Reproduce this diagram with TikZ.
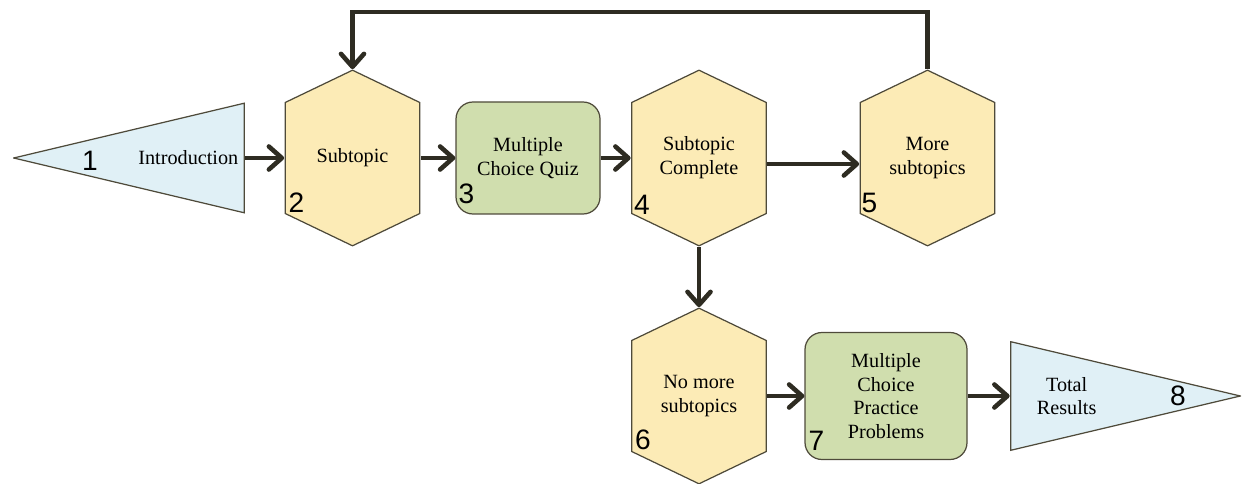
\documentclass[tikz,border=0pt]{standalone}
\usepackage{fontspec}
\setmainfont{Liberation Serif}
\newfontfamily\numfont{Liberation Sans}
\usetikzlibrary{arrows.meta, positioning}
\definecolor{hexfill}{HTML}{FCEBB6}
\definecolor{quizfill}{HTML}{D0DEAE}
\definecolor{endfill}{HTML}{E0F0F6}
\definecolor{edge}{HTML}{4E4A3A}
\definecolor{flowink}{HTML}{2E2C22}

\begin{document}
\begin{tikzpicture}[
  every node/.style = {font=\fontsize{11.5}{13.5}\selectfont},
  hexbox/.style = {minimum width=2.72cm, minimum height=3.54cm, inner sep=0pt, align=center,
    path picture={\filldraw[fill=hexfill, draw=edge, line width=0.7pt]
      ([yshift=-0.4pt]path picture bounding box.north)
      -- ([shift={(-0.4pt,-0.66cm)}]path picture bounding box.north east)
      -- ([shift={(-0.4pt,0.66cm)}]path picture bounding box.south east)
      -- ([yshift=0.4pt]path picture bounding box.south)
      -- ([shift={(0.4pt,0.66cm)}]path picture bounding box.south west)
      -- ([shift={(0.4pt,-0.66cm)}]path picture bounding box.north west) -- cycle;}},
  quizbox/.style = {draw=edge, line width=0.7pt, fill=quizfill, rounded corners=0.34cm, align=center, inner sep=0pt},
  startcap/.style = {minimum width=4.64cm, minimum height=2.22cm, inner sep=0pt,
    path picture={\filldraw[fill=endfill, draw=edge, line width=0.7pt]
      ([xshift=0.4pt]path picture bounding box.west)
      -- ([shift={(-0.4pt,-0.4pt)}]path picture bounding box.north east)
      -- ([shift={(-0.4pt,0.4pt)}]path picture bounding box.south east) -- cycle;}},
  endcap/.style = {minimum width=4.62cm, minimum height=2.2cm, inner sep=0pt,
    path picture={\filldraw[fill=endfill, draw=edge, line width=0.7pt]
      ([xshift=-0.4pt]path picture bounding box.east)
      -- ([shift={(0.4pt,-0.4pt)}]path picture bounding box.north west)
      -- ([shift={(0.4pt,0.4pt)}]path picture bounding box.south west) -- cycle;}},
  lbl/.style = {inner sep=0pt, align=center},
  num/.style = {font=\numfont\fontsize{16}{16}\selectfont, inner sep=0pt, anchor=south west},
  flow/.style = {draw=flowink, line width=2.6pt, -{Straight Barb[round, length=2.6mm, width=4.6mm]}}
]
  \useasboundingbox (0,0) rectangle (24.86,-9.68);

  % top row
  \node[startcap] (intro) at (2.58,-3.16) {};
  \node[lbl] (introtext) at ([xshift=-1.14cm]intro.east) {Introduction};
  \node[hexbox] (s2) at (7.05,-3.16) {Subtopic};
  \node[quizbox, minimum width=2.88cm, minimum height=2.24cm] (q3) at (10.56,-3.16) {Multiple\\Choice Quiz};
  \node[hexbox] (s4) at (13.98,-3.16) {Subtopic\\Complete};
  \node[hexbox] (s5) at (18.55,-3.16) {More\\subtopics};

  % bottom row
  \node[hexbox] (s6) at (13.98,-7.92) {No more\\subtopics};
  \node[quizbox, minimum width=3.24cm, minimum height=2.54cm] (p7) at (17.72,-7.92) {Multiple\\Choice\\Practice\\Problems};
  \node[endcap] (total) at (22.51,-7.92) {};
  \node[lbl] (totaltext) at ([xshift=1.14cm]total.west) {Total\\Results};

  % step numbers
  \node[num, anchor=center] (n1) at ([xshift=-0.78cm, yshift=-0.06cm]intro.center) {1};
  \node[num] (n2) at ([shift={(0.08cm,0.68cm)}]s2.south west) {2};
  \node[num] (n3) at ([shift={(0.06cm,0.2cm)}]q3.south west) {3};
  \node[num] (n4) at ([shift={(0.06cm,0.64cm)}]s4.south west) {4};
  \node[num] (n5) at ([shift={(0.04cm,0.68cm)}]s5.south west) {5};
  \node[num] (n6) at ([shift={(0.08cm,0.7cm)}]s6.south west) {6};
  \node[num] (n7) at ([shift={(0.08cm,0.18cm)}]p7.south west) {7};
  \node[num, anchor=center] (n8) at ([xshift=1.05cm]total.center) {8};

  \draw[flow] (intro.east) -- (s2.west);
  \draw[flow] (s2.east) -- (q3.west);
  \draw[flow] (q3.east) -- (s4.west);
  \draw[flow] ([yshift=-0.12cm]s4.east) -- ([yshift=-0.12cm]s4.east -| s5.west);
  \draw[flow] (s5.north) -- ++(0,1.14) -| (s2.north);
  \draw[flow] (s4.south) -- (s6.north);
  \draw[flow] (s6.east) -- (p7.west);
  \draw[flow] (p7.east) -- (total.west);
\end{tikzpicture}
\end{document}
